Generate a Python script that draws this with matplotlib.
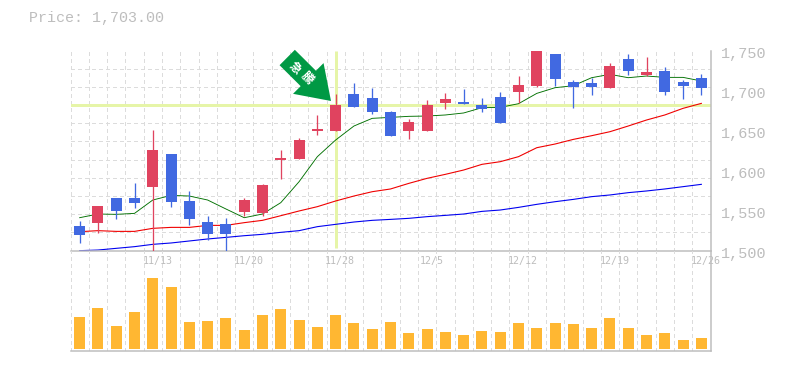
from matplotlib.patches import FancyArrow, Rectangle
from matplotlib.ticker import FixedLocator, NullFormatter
from matplotlib.transforms import Affine2D, ScaledTranslation
import matplotlib.pyplot as plt
import numpy as np

opens = [1531, 1534, 1566, 1566, 1579, 1621, 1562, 1536, 1533, 1548, 1547, 1613,
         1614, 1649, 1649, 1696, 1691, 1673, 1649, 1649, 1684, 1686, 1682, 1692,
         1698, 1706, 1746, 1711, 1709, 1703, 1739, 1719, 1724, 1711, 1716]
closes = [1519, 1556, 1549, 1559, 1626, 1561, 1539, 1521, 1521, 1563, 1582, 1616,
          1638, 1652, 1682, 1679, 1673, 1643, 1661, 1682, 1689, 1683, 1677, 1659,
          1707, 1760, 1714, 1704, 1704, 1731, 1724, 1723, 1698, 1706, 1703]
highs = [1537, 1556, 1566, 1584, 1651, 1621, 1574, 1543, 1541, 1566, 1583, 1626,
         1641, 1669, 1696, 1709, 1703, 1674, 1664, 1688, 1697, 1702, 1691, 1698,
         1718, 1760, 1746, 1713, 1716, 1734, 1746, 1742, 1729, 1713, 1721]
lows = [1510, 1522, 1540, 1553, 1499, 1555, 1532, 1513, 1499, 1543, 1543, 1589,
        1614, 1644, 1649, 1679, 1671, 1643, 1639, 1649, 1677, 1683, 1673, 1659,
        1684, 1704, 1706, 1678, 1694, 1703, 1719, 1718, 1694, 1689, 1694]
ma_short = [1541.0, 1545.6, 1545.2, 1546.4, 1563.1, 1568.9, 1568.1, 1563.1, 1551.9,
            1541.0, 1545.6, 1559.8, 1586.0, 1617.3, 1638.1, 1655.6, 1665.2, 1666.4,
            1667.7, 1668.1, 1669.4, 1671.9, 1678.5, 1678.9, 1683.5, 1696.4, 1703.5,
            1706.0, 1716.0, 1720.2, 1716.0, 1718.1, 1716.4, 1716.4, 1711.9]
ma_mid = [1523.5, 1524.8, 1523.9, 1523.9, 1527.7, 1528.9, 1528.9, 1531.4, 1531.4,
          1534.8, 1537.7, 1543.5, 1549.4, 1554.8, 1561.9, 1568.1, 1573.5, 1576.9,
          1583.9, 1590.2, 1595.2, 1600.6, 1607.7, 1611.0, 1617.3, 1628.5, 1633.1,
          1638.9, 1643.5, 1648.5, 1655.6, 1663.1, 1669.4, 1677.7, 1683.9]
ma_long = [1499.8, 1500.6, 1502.7, 1504.8, 1507.7, 1509.4, 1511.9, 1514.4, 1516.4,
           1518.5, 1520.2, 1522.7, 1524.8, 1529.8, 1532.7, 1535.6, 1537.7, 1538.9,
           1540.2, 1542.3, 1543.9, 1545.6, 1548.9, 1550.6, 1553.9, 1557.7, 1561.0,
           1563.9, 1567.3, 1569.4, 1572.3, 1574.4, 1576.9, 1579.8, 1582.7]
volumes = [32, 41, 23, 37, 71, 62, 27, 28, 31, 19, 34, 40, 29, 22, 34, 26, 20, 27,
           16, 20, 17, 14, 18, 17, 26, 21, 26, 25, 21, 31, 21, 14, 16, 9, 11]
price_ticks = [1500, 1550, 1600, 1650, 1700, 1750]
price_labels = ['1,500', '1,550', '1,600', '1,650', '1,700', '1,750']
date_pos = [4, 9, 14, 19, 24, 29, 34]
date_labels = ['11/13', '11/20', '11/28', '12/5', '12/12', '12/19', '12/26']
signal_day = 14
signal_price = 1682

GRAY = '#bdbdbd'
GRID = '#dcdcdc'
UP = '#e0435f'
DOWN = '#4169e1'
MARK = '#e6f5a8'
PX = 0.72  # one pixel in points at dpi 100
MONO = 'Liberation Mono'

W, H = 785, 370
fig = plt.figure(figsize=(W / 100, H / 100), dpi=100)
ax = fig.add_axes([70.5 / W, 1 - 250.5 / H, 640 / W, 200 / H])
vol = fig.add_axes([70.5 / W, 1 - 350.5 / H, 640 / W, 100 / H])

x = np.arange(len(opens)) + 0.5
grid_x = np.arange(len(opens) + 1)
dashes = (0, (3, 3))

for a in (ax, vol):
    a.set_xlim(0, len(opens))
    a.set_facecolor('none')
    a.set_axisbelow(True)
    for side in ('left', 'top'):
        a.spines[side].set_visible(False)
    for side in ('right', 'bottom'):
        a.spines[side].set_color(GRAY)
        a.spines[side].set_linewidth(1.5 * PX)
    a.xaxis.set_minor_locator(FixedLocator(grid_x))
    a.xaxis.set_minor_formatter(NullFormatter())
    a.grid(which='minor', axis='x', color=GRID, lw=PX, ls=dashes, antialiased=False)
    a.tick_params(which='both', length=0)

ax.set_ylim(1500, 1750)
ax.yaxis.tick_right()
ax.yaxis.set_minor_locator(FixedLocator(np.linspace(1500, 1750, 12)))
ax.yaxis.set_minor_formatter(NullFormatter())
ax.grid(which='minor', axis='y', color=GRID, lw=PX, ls=dashes, antialiased=False)
ax.set_yticks(price_ticks, price_labels, family=MONO, fontsize=11, color=GRAY)
ax.tick_params(axis='y', which='major', pad=7.5)
for label in ax.get_yticklabels():
    label.set_transform(label.get_transform() + ScaledTranslation(0, -2 / 100, fig.dpi_scale_trans))

ax.set_xticks(np.array(date_pos) + 0.5, date_labels, family='DejaVu Sans Mono', fontsize=7.2, color=GRAY)
ax.tick_params(axis='x', which='major', pad=4)
for label in ax.get_xticklabels():
    label.set_transform(label.get_transform() + ScaledTranslation(4.5 / 100, 0, fig.dpi_scale_trans))

# signal cross
ax.axhline(signal_price, color=MARK, lw=3 * PX, zorder=1)
ax.plot([signal_day + 0.5] * 2, [1503, 1750], color=MARK, lw=3 * PX, zorder=1, solid_capstyle='butt')

ax.plot(x, ma_long, color='#0000f0', lw=1.1 * PX, zorder=2)
ax.plot(x, ma_mid, color='#f00000', lw=1.1 * PX, zorder=2)
ax.plot(x, ma_short, color='#007000', lw=0.9 * PX, zorder=2)

for i in range(len(opens)):
    col = UP if closes[i] >= opens[i] else DOWN
    ax.plot([x[i], x[i]], [lows[i], highs[i]], color=col, lw=1.3 * PX, zorder=3, solid_capstyle='butt')
    ax.add_patch(Rectangle((x[i] - 0.3, min(opens[i], closes[i])), 0.6, abs(closes[i] - opens[i]),
                           facecolor=col, edgecolor='none', zorder=4))

vol.bar(x, volumes, width=0.6, color='#ffb732', zorder=3)
vol.set_ylim(-2, 98)
vol.set_yticks([])
vol.set_xticks([])

# the rest is placed in image pixels
to_px = Affine2D().scale(1, -1).translate(0, H)
fig.text(29, 18, 'Price: 1,703.00', transform=to_px, family=MONO, fontsize=10.8, color=GRAY,
         va='center', ha='left')
arrow = FancyArrow(287.2, 57.5, 43.8, 43.5, width=21.7, head_width=43.3, head_length=32,
                   length_includes_head=True, facecolor='#009944', edgecolor='none',
                   transform=to_px, zorder=5)
fig.add_artist(arrow)
for cx, cy, ch in [(295, 67.7, '急'), (306.7, 77.7, '騰')]:
    fig.text(cx, cy, ch, transform=to_px, family='Noto Sans CJK JP', fontweight='bold', fontsize=8.5,
             color='white', rotation=-45, rotation_mode='anchor', ha='center', va='center', zorder=6)

fig.savefig('out.png', dpi=100)
plt.close()
